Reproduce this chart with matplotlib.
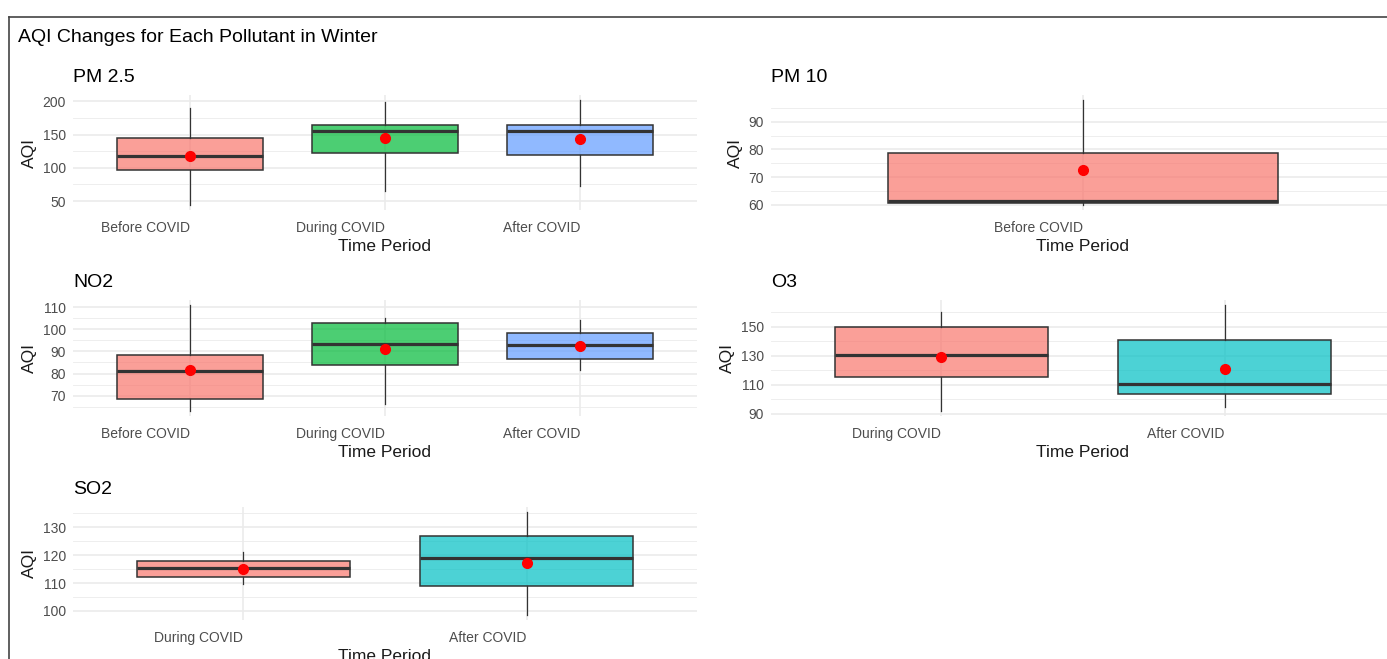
import matplotlib.pyplot as plt
from matplotlib.ticker import MultipleLocator
from matplotlib.lines import Line2D
from matplotlib.colors import to_rgba

plt.rcParams['font.family'] = ['Liberation Sans', 'DejaVu Sans']

# box summaries per pollutant: whisker low, Q1, median, Q3, whisker high, mean
pm25_periods = ["Before COVID", "During COVID", "After COVID"]
pm25_low = [44.5, 65.5, 73]
pm25_q1 = [96.5, 121.5, 118.5]
pm25_med = [118, 156, 155]
pm25_q3 = [145, 164.5, 164.5]
pm25_high = [190.5, 199, 201.5]
pm25_mean = [118, 145, 143.5]

pm10_periods = ["Before COVID"]
pm10_low = [60]
pm10_q1 = [60.8]
pm10_med = [61.3]
pm10_q3 = [78.9]
pm10_high = [97.8]
pm10_mean = [72.6]

no2_periods = ["Before COVID", "During COVID", "After COVID"]
no2_low = [63.2, 66.3, 81.7]
no2_q1 = [68.5, 84, 86.7]
no2_med = [81.1, 93.5, 92.8]
no2_q3 = [88.2, 103, 98.5]
no2_high = [110.8, 105.2, 104]
no2_mean = [81.8, 91, 92.6]

o3_periods = ["During COVID", "After COVID"]
o3_low = [92, 94.8]
o3_q1 = [115.4, 103.8]
o3_med = [130.7, 110.2]
o3_q3 = [150, 140.7]
o3_high = [160.4, 165]
o3_mean = [129.3, 121.2]

so2_periods = ["During COVID", "After COVID"]
so2_low = [109.5, 98.6]
so2_q1 = [112.2, 108.8]
so2_med = [115.3, 119.1]
so2_q3 = [118, 126.9]
so2_high = [121.2, 135.4]
so2_mean = [115, 117.3]

# ggplot default hue palettes by number of groups
hue = {1: ["#F8766D"],
       2: ["#F8766D", "#00BFC4"],
       3: ["#F8766D", "#00BA38", "#619CFF"]}

W, H = 1387, 659
fig = plt.figure(figsize=(W / 100, H / 100), dpi=100)

def px_axes(x0, y0, y1, w=624):
    return fig.add_axes([x0 / W, 1 - y1 / H, w / W, (y1 - y0) / H])

def panel(ax, name, periods, low, q1, med, q3, high, mean, major, minor, offset=0):
    stats = []
    for i in range(len(periods)):
        stats.append(dict(label=periods[i], whislo=low[i], q1=q1[i], med=med[i],
                          q3=q3[i], whishi=high[i], mean=mean[i], fliers=[]))
    pos = list(range(1, len(periods) + 1))
    bp = ax.bxp(stats, positions=pos, widths=0.75, patch_artist=True,
                showmeans=True, showcaps=False,
                boxprops=dict(edgecolor='#333333', linewidth=1.1),
                medianprops=dict(color='#333333', linewidth=2.3),
                whiskerprops=dict(color='#333333', linewidth=0.9),
                meanprops=dict(marker='o', markerfacecolor='red',
                               markeredgecolor='red', markersize=7))
    for box, c in zip(bp['boxes'], hue[len(periods)]):
        box.set_facecolor(to_rgba(c, 0.7))

    lo, hi = min(low), max(high)
    pad = (hi - lo) * 0.05
    ax.set_ylim(lo - pad, hi + pad)
    ax.set_xlim(0.4, len(periods) + 0.6)
    ax.set_xticks(pos)
    ax.set_xticklabels(periods, ha='right')
    ax.yaxis.set_major_locator(MultipleLocator(major, offset=offset))
    ax.yaxis.set_minor_locator(MultipleLocator(minor))

    ax.set_axisbelow(True)
    ax.grid(which='major', color='#EBEBEB', linewidth=1.2)
    ax.grid(which='minor', axis='y', color='#EBEBEB', linewidth=0.6)
    for s in ax.spines.values():
        s.set_visible(False)
    ax.tick_params(which='both', length=0, labelsize=10, labelcolor='#4D4D4D')
    ax.tick_params(axis='y', pad=5)
    ax.tick_params(axis='x', pad=8)
    ax.set_xlabel("Time Period", fontsize=12.5, color='#1A1A1A', labelpad=3)
    ax.set_ylabel("AQI", fontsize=12.5, color='#1A1A1A', labelpad=4)
    ax.set_title(name, loc='left', fontsize=14, pad=9, color='black')

panel(px_axes(73, 95, 210), "PM 2.5", pm25_periods, pm25_low, pm25_q1,
      pm25_med, pm25_q3, pm25_high, pm25_mean, 50, 25)
panel(px_axes(771, 95, 210), "PM 10", pm10_periods, pm10_low, pm10_q1,
      pm10_med, pm10_q3, pm10_high, pm10_mean, 10, 5)
panel(px_axes(73, 300, 416), "NO2", no2_periods, no2_low, no2_q1,
      no2_med, no2_q3, no2_high, no2_mean, 10, 5)
panel(px_axes(771, 300, 416), "O3", o3_periods, o3_low, o3_q1,
      o3_med, o3_q3, o3_high, o3_mean, 20, 10, offset=10)
panel(px_axes(73, 507, 620), "SO2", so2_periods, so2_low, so2_q1,
      so2_med, so2_q3, so2_high, so2_mean, 10, 5)

fig.text(18 / W, 1 - 38 / H, "AQI Changes for Each Pollutant in Winter",
         fontsize=14, va='center', ha='left')

# outer frame
fx, fy = 9 / W, 1 - 17 / H
fig.add_artist(Line2D([fx, fx], [fy, 0], transform=fig.transFigure,
                      color='#444444', linewidth=1.2))
fig.add_artist(Line2D([fx, 1], [fy, fy], transform=fig.transFigure,
                      color='#444444', linewidth=1.2))

fig.savefig("out.png", dpi=100)
